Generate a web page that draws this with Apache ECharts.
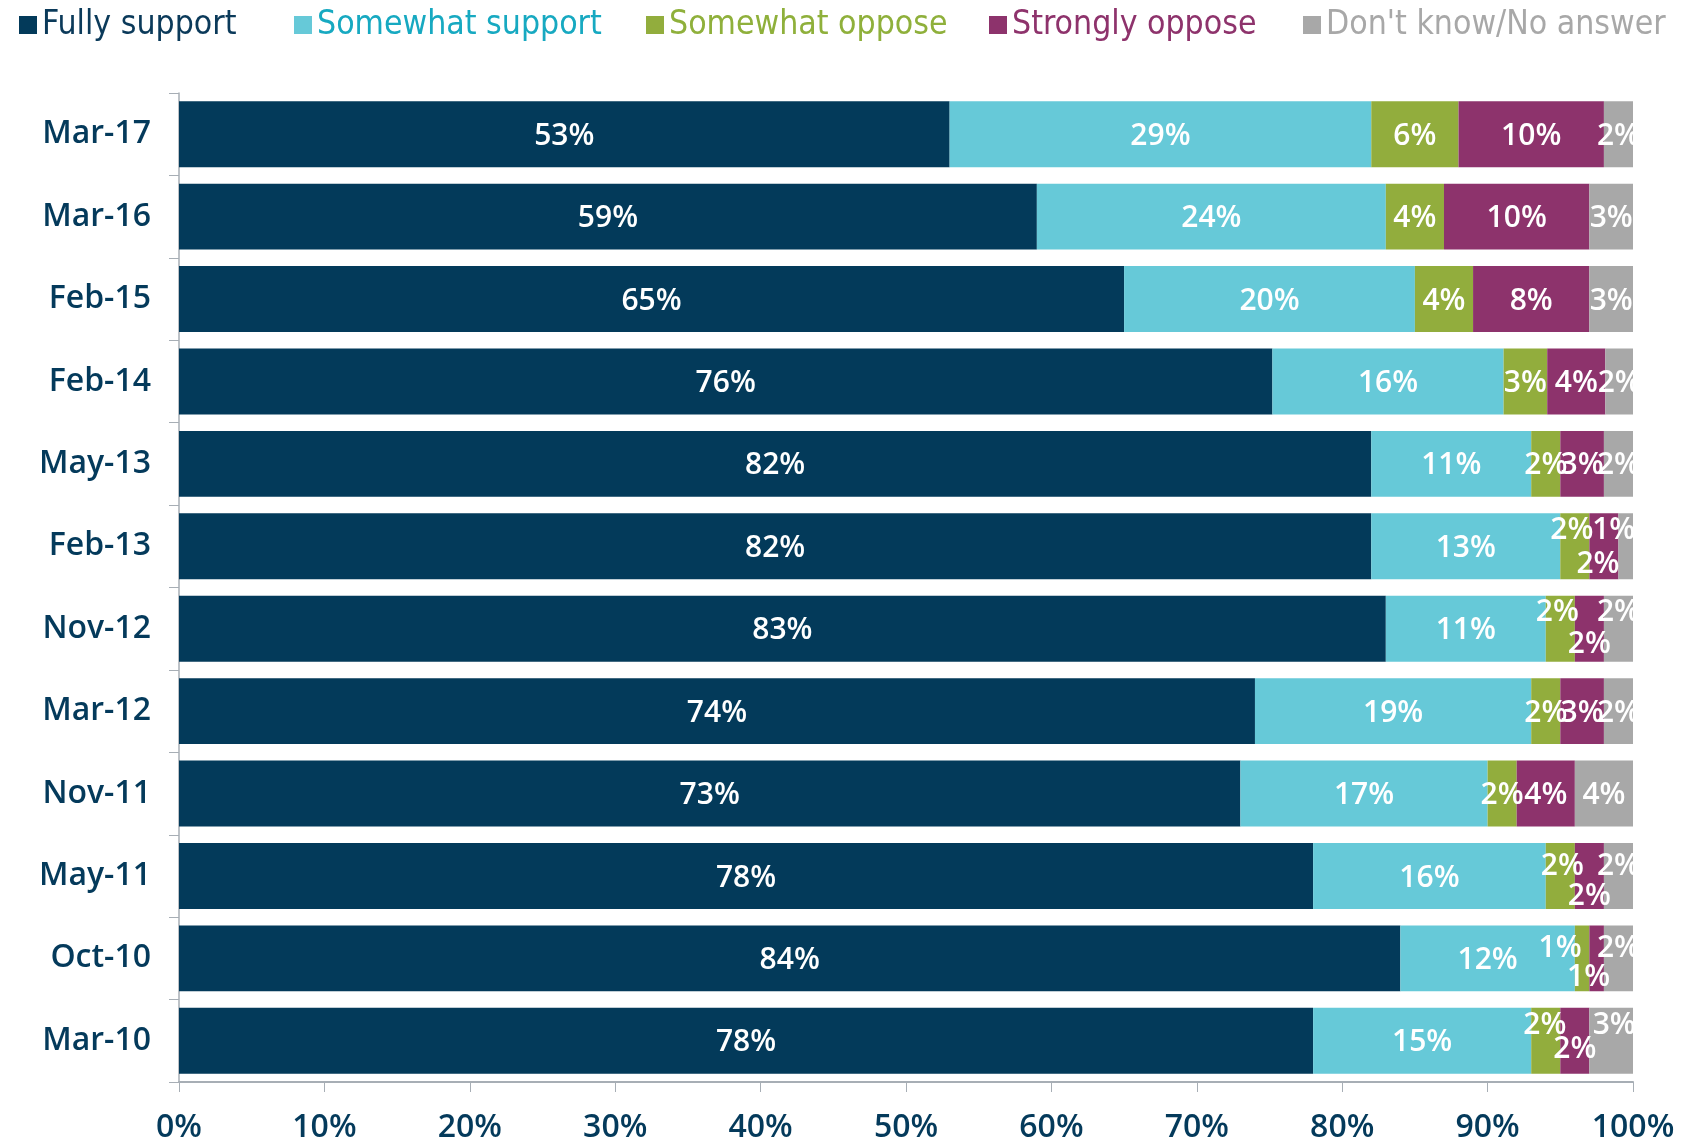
<!DOCTYPE html>
<html>
<head>
<meta charset="utf-8">
<script src="https://cdn.jsdelivr.net/npm/echarts@6/dist/echarts.min.js"></script>
<style>
  html, body { margin: 0; padding: 0; background: #fff; }
  #chart { width: 1683px; height: 1138px; }
</style>
</head>
<body>
<div id="chart"></div>
<script>
// survey waves, top to bottom
var categories = ['Mar-17', 'Mar-16', 'Feb-15', 'Feb-14', 'May-13', 'Feb-13', 'Nov-12', 'Mar-12', 'Nov-11', 'May-11', 'Oct-10', 'Mar-10'];

// shares in %
var fullySupport    = [53, 59, 65, 75.2, 82, 82, 83, 74, 73, 78, 84, 78];
var somewhatSupport = [29, 24, 20, 15.9, 11, 13, 11, 19, 17, 16, 12, 15];
var somewhatOppose  = [6, 4, 4, 3.0, 2, 2, 2, 2, 2, 2, 1, 2];
var stronglyOppose  = [10, 10, 8, 4.0, 3, 2, 2, 3, 4, 2, 1, 2];
var dontKnow        = [2, 3, 3, 1.9, 2, 1, 2, 2, 4, 2, 2, 3];

// printed labels of the first series (Feb-14 shows 76% on a 75% bar)
var fullySupportLabels = [53, 59, 65, 76, 82, 82, 83, 74, 73, 78, 84, 78];

var xTicks = [0, 10, 20, 30, 40, 50, 60, 70, 80, 90, 100];

// labels that were moved by hand because the segments are too thin
var moved = {
    'Feb-13': { oppose: [-3, -16], strong: [-6, 18], dk: [-12, -16] },
    'Nov-12': { oppose: [-3, -16], strong: [0, 16], dk: [0, -16] },
    'May-11': { oppose: [2, -10], strong: [0, 20], dk: [0, -10] },
    'Oct-10': { oppose: [-22, -10], strong: [-8, 19], dk: [0, -10] },
    'Mar-10': { oppose: [-1, -15], strong: [0, 9], dk: [3, -15] }
};

var navy = '#043a5b';
var font = "'Open Sans', 'Noto Sans', sans-serif";
var narrow = "'Liberation Sans Narrow', 'DejaVu Sans Condensed', 'Roboto Condensed', sans-serif";

function makeData(values, key) {
    return values.map(function (v, i) {
        var m = moved[categories[i]];
        if (key && m && m[key]) {
            return { value: v, label: { offset: m[key] } };
        }
        return v;
    });
}

function makeSeries(name, color, values, key, printed) {
    return {
        name: name,
        type: 'bar',
        stack: 'all',
        barCategoryGap: '20%',
        itemStyle: { color: color },
        label: {
            show: true,
            position: 'inside',
            color: '#fff',
            fontFamily: font,
            fontSize: 30,
            fontWeight: 600,
            offset: [0, 2],
            formatter: function (p) {
                var v = printed ? printed[p.dataIndex] : Math.round(p.value);
                return v + '%';
            }
        },
        data: makeData(values, key)
    };
}

var legends = [
    { name: 'Fully support', left: 14, text: '#0b3a5a' },
    { name: 'Somewhat support', left: 289, text: '#17a9c1' },
    { name: 'Somewhat oppose', left: 641, text: '#8fb03b' },
    { name: "Strongly oppose", left: 984, text: '#8e336c' },
    { name: "Don't know/No answer", left: 1298, text: '#a8a8a8' }
].map(function (l) {
    return {
        left: l.left,
        top: 3,
        icon: 'rect',
        itemWidth: 18,
        itemHeight: 18,
        selectedMode: false,
        data: [l.name],
        textStyle: { color: l.text, fontFamily: narrow, fontSize: 33.5 }
    };
});

var chart = echarts.init(document.getElementById('chart'));
chart.setOption({
    animation: false,
    backgroundColor: '#fff',
    legend: legends,
    grid: { left: 179, right: 50, top: 93, bottom: 56, containLabel: false, outerBoundsMode: 'none' },
    xAxis: {
        type: 'value',
        min: 0,
        max: 100,
        interval: 10,
        splitLine: { show: false },
        axisLine: { show: true, lineStyle: { color: '#a7aeb5', width: 2 } },
        axisTick: { show: true, length: 10, lineStyle: { color: '#a7aeb5', width: 1 } },
        axisLabel: {
            margin: 30,
            color: navy,
            fontFamily: font,
            fontSize: 32,
            fontWeight: 600,
            formatter: function (v) { return xTicks.indexOf(v) >= 0 ? v + '%' : ''; }
        }
    },
    yAxis: {
        type: 'category',
        inverse: true,
        data: categories,
        axisLine: { show: true, lineStyle: { color: '#a7aeb5', width: 1.5 } },
        axisTick: { show: true, length: 10, lineStyle: { color: '#a7aeb5' } },
        axisLabel: {
            margin: 28,
            color: navy,
            fontFamily: font,
            fontSize: 32,
            fontWeight: 600,
            padding: [12, 0, 0, 0]
        }
    },
    series: [
        makeSeries('Fully support', '#033a5a', fullySupport, null, fullySupportLabels),
        makeSeries('Somewhat support', '#66c9d8', somewhatSupport, null),
        makeSeries('Somewhat oppose', '#92ad3d', somewhatOppose, 'oppose'),
        makeSeries('Strongly oppose', '#8d336c', stronglyOppose, 'strong'),
        makeSeries("Don't know/No answer", '#a8a8a8', dontKnow, 'dk')
    ],
    // labels are cut at the right edge of the plot, as in the original
    graphic: [{
        type: 'rect',
        z: 100,
        shape: { x: 1634, y: 88, width: 49, height: 990 },
        style: { fill: '#fff' }
    }]
});
</script>
</body>
</html>
